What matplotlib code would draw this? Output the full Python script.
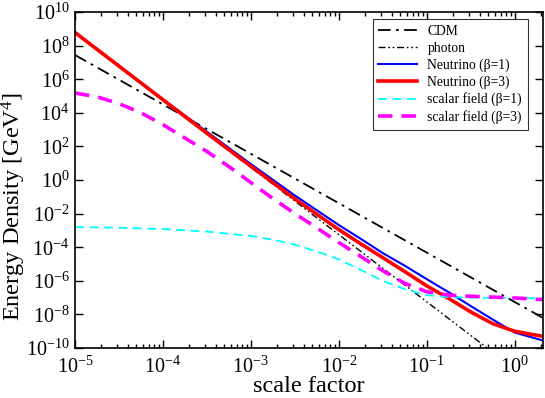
"""Energy density of the dark components versus scale factor
(CDM, photons, neutrinos and the scalar field for two couplings).
"""

import numpy as np
import matplotlib
import matplotlib.pyplot as plt
from matplotlib.ticker import FixedLocator, FuncFormatter, LogLocator, NullFormatter

matplotlib.use("Agg")

# values, as log10(a) and log10(rho / GeV^4)
cdm_loga = [-5.0, 0.32]
cdm_logrho = [7.44, -8.2]

photon_loga = [-5.0, 0.32]
photon_logrho = [8.75, -12.53]

nu1_loga = [-5.0, -4.0, -3.0, -2.5, -2.0, -1.75, -1.5, -1.25, -1.0, -0.75,
            -0.5, -0.25, 0.0, 0.15, 0.32]
nu1_logrho = [8.8, 4.8, 0.95, -0.92, -2.68, -3.5, -4.35, -5.1, -5.9, -6.68,
              -7.5, -8.3, -9.08, -9.3, -9.55]

nu3_loga = [-5.0, -4.5, -4.0, -3.5, -3.0, -2.5, -2.0, -1.75, -1.5, -1.25,
            -1.0, -0.75, -0.5, -0.25, 0.0, 0.15, 0.32]
nu3_logrho = [8.78, 6.78, 4.78, 2.78, 0.82, -1.12, -2.95, -3.8, -4.62, -5.45,
              -6.3, -7.05, -7.85, -8.55, -9.0, -9.15, -9.3]

sf1_loga = [-5.0, -4.5, -4.0, -3.5, -3.0, -2.75, -2.5, -2.25, -2.0, -1.75,
            -1.5, -1.25, -1.0, -0.75, -0.5, 0.0, 0.32]
sf1_logrho = [-2.8, -2.84, -2.92, -3.07, -3.33, -3.55, -3.85, -4.25, -4.72,
              -5.35, -6.0, -6.5, -6.85, -6.97, -7.0, -7.02, -7.04]

sf3_loga = [-5.0, -4.75, -4.5, -4.25, -4.0, -3.75, -3.5, -3.25, -3.0, -2.75,
            -2.5, -2.25, -2.0, -1.75, -1.5, -1.25, -1.0, -0.75, -0.5, 0.0, 0.32]
sf3_logrho = [5.18, 4.95, 4.55, 4.0, 3.3, 2.5, 1.7, 0.8, -0.15, -1.1,
              -2.0, -2.85, -3.72, -4.55, -5.4, -6.15, -6.65, -6.85, -6.92,
              -7.02, -7.12]

y_exponents = list(range(-10, 11, 2))


def to_linear(loga, logrho):
    """turn the log10 readings back into plain numbers for a log-log plot"""
    return 10.0 ** np.array(loga), 10.0 ** np.array(logrho)


def power_label(v, pos):
    return r"$10^{%d}$" % round(np.log10(v))


def main():
    plt.rcParams["font.family"] = ["Liberation Serif", "DejaVu Serif"]
    plt.rcParams["mathtext.fontset"] = "custom"
    plt.rcParams["mathtext.rm"] = "Liberation Serif"
    plt.rcParams["mathtext.it"] = "Liberation Serif:italic"

    fig = plt.figure(figsize=(5.45, 3.98), dpi=100)
    ax = fig.add_axes([0.1376, 0.1256, 0.8587, 0.8442])

    curves = [
        (cdm_loga, cdm_logrho, "CDM",
         dict(color="black", lw=1.3, linestyle=(0, (7, 3, 1.5, 3)))),
        (photon_loga, photon_logrho, "photon",
         dict(color="black", lw=1.0, linestyle=(0, (5, 2, 1.2, 2, 1.2, 2)))),
        (nu1_loga, nu1_logrho, "Neutrino (β=1)",
         dict(color="#0000ff", lw=1.5)),
        (nu3_loga, nu3_logrho, "Neutrino (β=3)",
         dict(color="#ff0000", lw=2.6)),
        (sf1_loga, sf1_logrho, "scalar field (β=1)",
         dict(color="#00ffff", lw=1.3, linestyle=(0, (5, 3)))),
        (sf3_loga, sf3_logrho, "scalar field (β=3)",
         dict(color="#ff00ff", lw=2.6, linestyle=(0, (4, 2.5)))),
    ]
    for loga, logrho, label, style in curves:
        a, rho = to_linear(loga, logrho)
        ax.plot(a, rho, label=label, **style)

    ax.set_xscale("log")
    ax.set_yscale("log")
    ax.set_xlim(1e-5, 2.1)
    ax.set_ylim(1e-10, 1e10)

    ax.xaxis.set_major_locator(LogLocator(base=10, numticks=20))
    ax.xaxis.set_minor_locator(LogLocator(base=10, subs=np.arange(2, 10), numticks=40))
    ax.xaxis.set_minor_formatter(NullFormatter())
    ax.xaxis.set_major_formatter(FuncFormatter(power_label))

    ax.yaxis.set_major_locator(FixedLocator([10.0 ** k for k in y_exponents]))
    ax.yaxis.set_minor_locator(FixedLocator([]))
    ax.yaxis.set_major_formatter(FuncFormatter(power_label))

    ax.tick_params(which="both", direction="in", top=True, right=True,
                   width=1.0, labelsize=14.5)
    ax.tick_params(axis="x", which="major", pad=6.5)
    ax.tick_params(axis="y", which="major", pad=4)
    ax.tick_params(which="major", length=6)
    ax.tick_params(which="minor", length=3)
    for spine in ax.spines.values():
        spine.set_linewidth(1.2)

    ax.set_xlabel("scale factor", fontsize=17.5, labelpad=-1.5)
    ax.set_ylabel(r"Energy Density [GeV$^4$]", fontsize=17.5)
    ax.yaxis.set_label_coords(-0.10, 0.42)

    leg = ax.legend(loc="upper right", bbox_to_anchor=(0.967, 0.978),
                    fontsize=9.8, handlelength=2.8, frameon=True,
                    fancybox=False, borderpad=0.4, labelspacing=0.27,
                    handletextpad=0.8, borderaxespad=0.0)
    leg.get_frame().set_edgecolor("black")
    leg.get_frame().set_linewidth(0.8)

    fig.savefig("out.png", dpi=100)
    print("Plot saved as 'out.png'")


if __name__ == "__main__":
    main()
